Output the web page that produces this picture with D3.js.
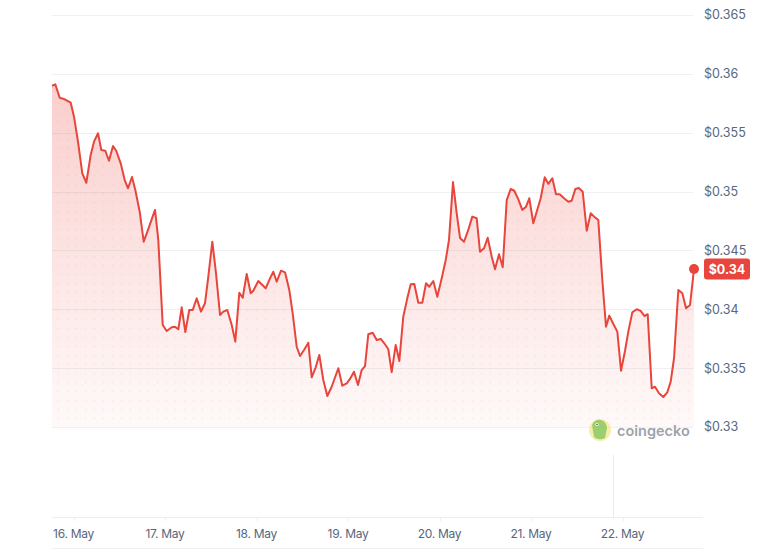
<!DOCTYPE html>
<html><head><meta charset="utf-8">
<script src="https://cdn.jsdelivr.net/npm/d3@7"></script>
<style>html,body{margin:0;padding:0;background:#fff;}svg{display:block;}</style>
</head><body>
<svg id="chart" width="772" height="549"></svg>
<script>
// Hours since 16 May 00:00 (UTC)
const hours = [-5.64,-4.77,-3.62,-2.31,-0.73,0.13,1.18,2.31,3.36,4.51,5.38,6.43,7.29,8.34,9.31,10.36,11.23,12.38,13.43,14.30,15.34,16.21,17.36,18.41,19.54,21.38,22.24,23.40,24.45,25.76,26.62,27.49,28.38,29.33,30.37,31.27,32.31,33.44,34.49,35.36,36.41,37.38,38.43,39.29,40.34,41.50,42.44,43.49,44.38,45.43,46.48,47.16,48.47,50.41,51.54,52.41,53.30,54.43,55.48,56.60,57.49,58.54,59.41,60.46,61.59,62.48,63.53,64.47,65.52,66.57,67.72,69.46,70.50,71.66,72.52,73.57,74.62,75.59,76.46,77.32,78.48,79.53,80.58,81.52,82.57,83.46,84.51,85.46,86.50,87.55,88.45,89.39,90.44,91.49,92.46,93.32,94.37,95.42,96.58,97.63,98.49,99.54,100.51,101.38,102.43,103.55,104.60,105.76,106.62,107.67,108.64,109.69,110.56,111.61,112.58,113.63,114.67,115.62,116.67,117.72,118.69,119.55,120.60,121.49,122.54,123.59,124.54,125.59,126.56,127.53,128.66,129.78,130.67,131.62,132.54,133.56,134.61,135.66,136.60,137.65,138.70,139.67,140.54,141.59,142.64,143.61,144.66,145.52,146.57,147.72,148.77,149.72,150.61,151.66,152.52,153.57,154.70,155.75,156.64,157.51,158.64,159.69,160.66,161.70,162.75];
const prices = [0.35899,0.35911,0.35797,0.35784,0.35755,0.35636,0.35424,0.35155,0.35075,0.35311,0.35424,0.35495,0.35353,0.35347,0.35262,0.35387,0.35345,0.35240,0.35098,0.35028,0.35124,0.35013,0.34829,0.34574,0.34674,0.34844,0.34589,0.33867,0.33816,0.33847,0.33852,0.33830,0.34017,0.33807,0.33994,0.33994,0.34093,0.33980,0.34051,0.34277,0.34574,0.34306,0.33952,0.33980,0.33994,0.33867,0.33725,0.34141,0.34098,0.34300,0.34136,0.34158,0.34240,0.34178,0.34263,0.34319,0.34234,0.34328,0.34314,0.34164,0.33966,0.33682,0.33603,0.33654,0.33716,0.33422,0.33507,0.33612,0.33399,0.33263,0.33342,0.33499,0.33351,0.33371,0.33408,0.33470,0.33357,0.33484,0.33518,0.33788,0.33801,0.33739,0.33748,0.33711,0.33660,0.33467,0.33697,0.33561,0.33937,0.34093,0.34212,0.34215,0.34056,0.34056,0.34221,0.34192,0.34240,0.34107,0.34263,0.34419,0.34589,0.35081,0.34815,0.34606,0.34574,0.34674,0.34787,0.34773,0.34489,0.34518,0.34608,0.34447,0.34340,0.34467,0.34357,0.34928,0.35022,0.35007,0.34934,0.34844,0.34872,0.34943,0.34731,0.34829,0.34943,0.35121,0.35066,0.35113,0.34978,0.34978,0.34943,0.34914,0.34922,0.35022,0.35030,0.34999,0.34668,0.34815,0.34787,0.34758,0.34249,0.33852,0.33946,0.33875,0.33810,0.33478,0.33648,0.33810,0.33974,0.34000,0.33986,0.33943,0.33958,0.33329,0.33342,0.33286,0.33255,0.33295,0.33385,0.33584,0.34164,0.34136,0.34008,0.34036,0.34342];
const yTicks = [0.33,0.335,0.34,0.345,0.35,0.355,0.36,0.365];
const currentLabel = "$0.34";
const brand = "coingecko";

const base = Date.UTC(2024,4,16,0,0,0);
const data = hours.map((h,i)=>({t:new Date(base + h*3600000), v:prices[i]}));

const svg = d3.select("#chart");
const pL = 52, pR = 694, pT = 15, pB = 427;
const x = d3.scaleUtc().domain(d3.extent(data,d=>d.t)).range([pL,pR]);
const y = d3.scaleLinear().domain([0.33,0.365]).range([pB,pT]);
const red = "#e8453c";

const defs = svg.append("defs");
const grad = defs.append("linearGradient").attr("id","fillGrad")
  .attr("gradientUnits","userSpaceOnUse").attr("x1",0).attr("x2",0)
  .attr("y1",y(d3.max(prices))).attr("y2",pB);
grad.append("stop").attr("offset","0%").attr("stop-color",red).attr("stop-opacity",0.26);
grad.append("stop").attr("offset","100%").attr("stop-color",red).attr("stop-opacity",0.03);
const pat = defs.append("pattern").attr("id","dots").attr("patternUnits","userSpaceOnUse")
  .attr("width",9).attr("height",9);
pat.append("circle").attr("cx",4.5).attr("cy",4.5).attr("r",1.1).attr("fill",red).attr("fill-opacity",0.07);

// grid
svg.append("g").selectAll("line").data(yTicks).join("line")
  .attr("x1",pL).attr("x2",pR-1).attr("y1",d=>Math.round(y(d))+0.5).attr("y2",d=>Math.round(y(d))+0.5)
  .attr("stroke","#eef0f3").attr("stroke-width",1);

// area
const area = d3.area().x(d=>x(d.t)).y0(pB).y1(d=>y(d.v));
svg.append("path").datum(data).attr("d",area).attr("fill","url(#fillGrad)");
svg.append("path").datum(data).attr("d",area).attr("fill","url(#dots)");

// line
svg.append("path").datum(data)
  .attr("d",d3.line().x(d=>x(d.t)).y(d=>y(d.v)))
  .attr("fill","none").attr("stroke",red).attr("stroke-width",2).attr("stroke-linejoin","round");

// y labels
svg.append("g").selectAll("text").data(yTicks).join("text")
  .attr("x",704).attr("y",d=>y(d)).attr("dy","0.35em")
  .attr("font-family","Inter, 'Open Sans', sans-serif").attr("font-size",12.5)
  .attr("fill","#58667e").text(d=>"$"+(+d.toFixed(3)));

// x axis lines
svg.append("line").attr("x1",pL).attr("x2",703).attr("y1",517.5).attr("y2",517.5).attr("stroke","#eceef2");
svg.append("line").attr("x1",pL).attr("x2",703).attr("y1",548.5).attr("y2",548.5).attr("stroke","#f0f1f4");
svg.append("line").attr("x1",613.5).attr("x2",613.5).attr("y1",455).attr("y2",517).attr("stroke","#e8eaee");

const xt = x.ticks(d3.utcDay.every(1));
svg.append("g").selectAll("line").data(xt).join("line")
  .attr("x1",d=>Math.round(x(d))+0.5).attr("x2",d=>Math.round(x(d))+0.5).attr("y1",517).attr("y2",521)
  .attr("stroke","#eceef2");
svg.append("g").selectAll("text").data(xt).join("text")
  .attr("x",d=>x(d)).attr("y",534).attr("dy","0.35em").attr("text-anchor","middle")
  .attr("font-family","Inter, 'Open Sans', sans-serif").attr("font-size",12).attr("letter-spacing",-0.3)
  .attr("fill","#58667e").text(d=>d3.utcFormat("%-d. %b")(d));

// end dot + label
const last = data[data.length-1];
svg.append("circle").attr("cx",x(last.t)).attr("cy",y(last.v)).attr("r",5).attr("fill",red);
svg.append("rect").attr("x",704).attr("y",y(last.v)-10.5).attr("width",46).attr("height",21).attr("rx",3).attr("fill",red);
svg.append("text").attr("x",727).attr("y",y(last.v)).attr("dy","0.36em").attr("text-anchor","middle")
  .attr("font-family","Inter, 'Open Sans', sans-serif").attr("font-size",12.5).attr("font-weight",700)
  .attr("fill","#fff").text(currentLabel);

// watermark
const wm = svg.append("g").attr("opacity",0.85);
wm.append("circle").attr("cx",600).attr("cy",430).attr("r",11).attr("fill","#f7eaa0");
wm.append("path").attr("d","M592,425 Q595,419 601,420 Q606,421 607,428 L605,438 Q599,441 594,437 Z").attr("fill","#8cc657");
wm.append("circle").attr("cx",597).attr("cy",424.5).attr("r",1.6).attr("fill","#fff");
wm.append("circle").attr("cx",597).attr("cy",424.5).attr("r",0.8).attr("fill","#333");
wm.append("text").attr("x",617).attr("y",431).attr("dy","0.35em")
  .attr("font-family","Inter, 'Open Sans', sans-serif").attr("font-size",14.5).attr("font-weight",600)
  .attr("fill","#8d939c").text(brand);
</script>
</body></html>
